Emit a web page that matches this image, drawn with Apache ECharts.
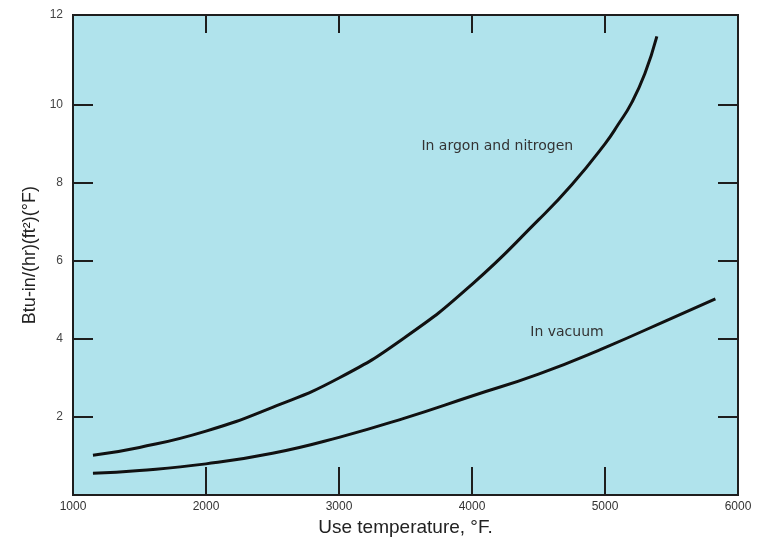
<!DOCTYPE html>
<html>
<head>
<meta charset="utf-8">
<script src="https://cdn.jsdelivr.net/npm/echarts@6/dist/echarts.min.js"></script>
<style>
html,body{margin:0;padding:0;background:#fff;}
#chart{width:769px;height:542px;}
</style>
</head>
<body>
<div id="chart"></div>
<script>
// Data
var argonTemps = [1150, 1500, 2000, 2500, 3000, 3500, 4000, 4500, 4750, 5000, 5100, 5200, 5300, 5390];
var argonValues = [1.02, 1.22, 1.64, 2.25, 3.00, 4.05, 5.40, 7.05, 7.95, 9.00, 9.50, 10.05, 10.80, 11.75];
var vacuumTemps = [1150, 1500, 2000, 2500, 3000, 3500, 4000, 4500, 5000, 5500, 5830];
var vacuumValues = [0.56, 0.63, 0.80, 1.07, 1.48, 1.98, 2.54, 3.10, 3.78, 4.53, 5.03];
var yTickValues = [2, 4, 6, 8, 10];
var yLabelValues = [2, 4, 6, 8, 10, 12];
var xTickLabels = [1000, 2000, 3000, 4000, 5000, 6000];
var seriesNames = ['In argon and nitrogen', 'In vacuum'];

function pairs(xs, ys) { return xs.map(function (x, i) { return [x, ys[i]]; }); }

var Y_MAX = 12.3;
var yLabelPositions = yLabelValues.map(function (v) { return v === 12 ? Y_MAX : v; });

var chart = echarts.init(document.getElementById('chart'));
var tickStyle = { color: '#1e1e1e', width: 2 };
function noteMark(text, coord) {
  return {
    symbol: 'circle', symbolSize: 1, silent: true,
    itemStyle: { color: 'rgba(0,0,0,0)' },
    label: { show: true, formatter: text, color: '#333', fontSize: 14, fontFamily: 'DejaVu Sans, sans-serif', position: 'inside' },
    data: [{ coord: coord }]
  };
}
var option = {
  animation: false,
  backgroundColor: '#ffffff',
  textStyle: { fontFamily: 'Liberation Sans, Arial, sans-serif' },
  grid: {
    left: 73, right: 31, top: 15, bottom: 45,
    show: true, backgroundColor: '#b0e3ec', borderColor: '#1e1e1e', borderWidth: 2
  },
  xAxis: [{
    type: 'value', min: xTickLabels[0], max: xTickLabels[xTickLabels.length - 1], interval: 1000,
    position: 'bottom',
    axisLine: { show: false, onZero: false },
    splitLine: { show: false },
    axisTick: { show: true, inside: true, length: 28, lineStyle: tickStyle },
    axisLabel: { color: '#333', fontSize: 12, margin: 6, formatter: function (v) { return String(v); } },
    name: 'Use temperature, °F.', nameLocation: 'middle', nameGap: 20,
    nameTextStyle: { color: '#222', fontSize: 19 }
  }, {
    type: 'value', min: xTickLabels[0], max: xTickLabels[xTickLabels.length - 1], interval: 1000,
    position: 'top',
    axisLine: { show: false, onZero: false }, splitLine: { show: false },
    axisTick: { show: true, inside: true, length: 18, lineStyle: tickStyle },
    axisLabel: { show: false }
  }],
  yAxis: [{
    type: 'value', min: 0, max: Y_MAX,
    position: 'left',
    axisLine: { show: false, onZero: false }, splitLine: { show: false },
    axisTick: { show: true, inside: true, length: 20, lineStyle: tickStyle, customValues: yTickValues },
    axisLabel: {
      color: '#444', fontSize: 12, margin: 10, customValues: yLabelPositions,
      formatter: function (v) { return v > 12 ? '12' : String(v); }
    },
    name: 'Btu-in/(hr)(ft²)(°F)', nameLocation: 'middle', nameRotate: 90, nameGap: 34,
    nameTextStyle: { color: '#222', fontSize: 18 }
  }, {
    type: 'value', min: 0, max: Y_MAX,
    position: 'right',
    axisLine: { show: false, onZero: false }, splitLine: { show: false },
    axisTick: { show: true, inside: true, length: 20, lineStyle: tickStyle, customValues: yTickValues },
    axisLabel: { show: false }
  }],
  series: [{
    name: seriesNames[0], type: 'line', smooth: true, showSymbol: false,
    data: pairs(argonTemps, argonValues),
    lineStyle: { color: '#111', width: 3 },
    markPoint: noteMark(seriesNames[0], [4190, 8.93])
  }, {
    name: seriesNames[1], type: 'line', smooth: true, showSymbol: false,
    data: pairs(vacuumTemps, vacuumValues),
    lineStyle: { color: '#111', width: 3 },
    markPoint: noteMark(seriesNames[1], [4714, 4.18])
  }]
};
chart.setOption(option);
</script>
</body>
</html>
